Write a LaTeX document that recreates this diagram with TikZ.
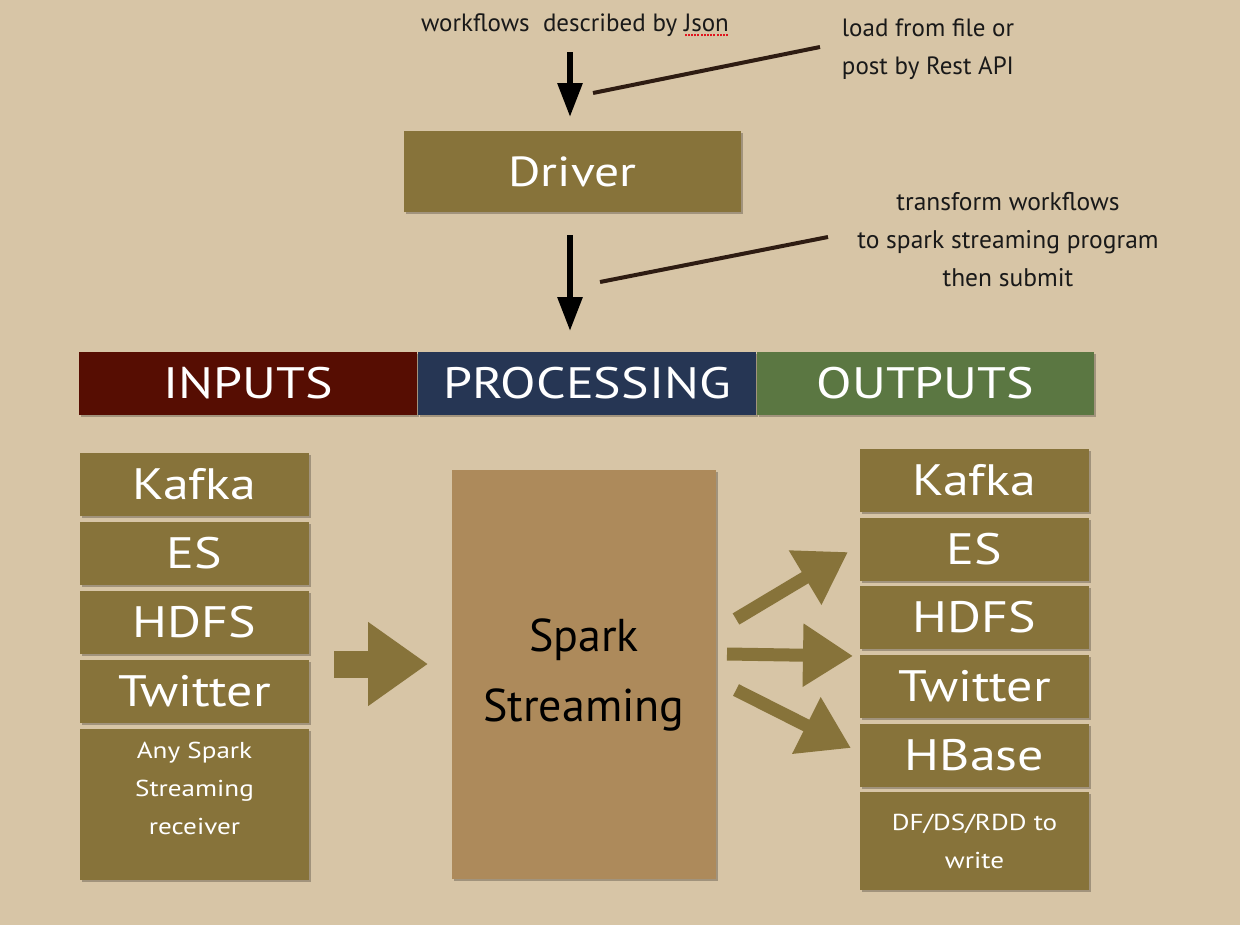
\documentclass[tikz,border=0pt]{standalone}
\usepackage{fontspec}
\setmainfont{PT Sans}
\newfontfamily\widefont[FakeStretch=1.18]{PT Sans}
\usetikzlibrary{arrows.meta,shadows}
\definecolor{bg}{HTML}{D7C5A6}
\definecolor{olivebox}{HTML}{87733A}
\definecolor{sparkbox}{HTML}{AD8A5B}
\definecolor{inred}{HTML}{560D02}
\definecolor{procblue}{HTML}{263654}
\definecolor{outgreen}{HTML}{5B7742}
\definecolor{noteline}{HTML}{2E1C12}
\definecolor{spellred}{HTML}{E0141E}
\newcommand{\spellul}[1]{\setbox0\hbox{#1}\rlap{\textcolor{spellred}{\raisebox{-5pt}{\leaders\hbox to 3.2pt{\hss\rule{2pt}{2pt}\hss}\hskip\wd0}}}#1}
\begin{document}
\begin{tikzpicture}[x=1pt,y=-1pt,
  shad/.style={drop shadow={shadow xshift=1.5pt,shadow yshift=-2pt,opacity=0.25,fill=black}},
  tilebox/.style={fill=olivebox,draw=none,inner sep=0pt,text=white,align=center,shad,
    minimum width=229pt,minimum height=63pt,font=\widefont\fontsize{44pt}{50pt}\selectfont},
  headbox/.style={draw=none,inner sep=0pt,text=white,align=center,shad,
    minimum width=338pt,minimum height=63pt,font=\widefont\fontsize{44pt}{50pt}\selectfont},
  note/.style={align=center,text=black!90,inner sep=0pt,font=\fontsize{25pt}{38pt}\selectfont},
  blackarrow/.style={draw=black,line width=6pt,-{Triangle[length=34pt,width=24pt]}},
  noteconn/.style={draw=noteline,line width=4pt},
  fatarrow/.style={draw=olivebox,-{Triangle[length=50pt,width=60pt]}},
]
\useasboundingbox (0,0) rectangle (1240,924);
\fill[bg] (-10,-10) rectangle (1250,934);

% top notes
\node[note] (json) at (575,25) {workflows\ \ described by \spellul{Json}};
\node[note] (load) at (928,49) {load from file or\\post by Rest API};
\node[note,font=\fontsize{25.5pt}{38pt}\selectfont] (transf) at (1008,240) {transform workflows\\to spark streaming program\\then submit};

% driver
\node[tilebox,minimum width=337pt,minimum height=81pt,font=\widefont\fontsize{42pt}{48pt}\selectfont] (driver) at (572.5,171.5) {Driver};

% header
\node[headbox,fill=inred] (inputs) at (248,383.5) {INPUTS};
\node[headbox,fill=procblue] (proc) at (587,383.5) {PROCESSING};
\node[headbox,fill=outgreen,minimum width=337pt] (outputs) at (925.5,383.5) {OUTPUTS};

% black arrows
\coordinate (a1s) at (570,52);
\coordinate (a1e) at (570,117);
\coordinate (a2s) at (570,235);
\coordinate (a2e) at (570,331);
\draw[blackarrow] (a1s) -- (a1e);
\draw[blackarrow] (a2s) -- (a2e);

% note connectors
\coordinate (n1a) at (593,93);
\coordinate (n1b) at (820,47);
\coordinate (n2a) at (600,282);
\coordinate (n2b) at (828,237);
\draw[noteconn] (n1a) -- (n1b);
\draw[noteconn] (n2a) -- (n2b);

% input column
\node[tilebox] (ikafka) at (194.5,484.5) {Kafka};
\node[tilebox] (ies) at (194.5,553.5) {ES};
\node[tilebox] (ihdfs) at (194.5,622.5) {HDFS};
\node[tilebox] (itwit) at (194.5,691) {Twitter};
\node[tilebox,minimum height=151pt] (iany) at (194.5,804.5) {};
\node[text=white,align=center,inner sep=0pt,font=\widefont\fontsize{23pt}{38pt}\selectfont] (ianyt) at (194.5,788) {Any Spark\\Streaming\\receiver};

% spark
\node[fill=sparkbox,draw=none,inner sep=0pt,shad,minimum width=264pt,minimum height=409pt,
  align=center,font=\fontsize{46pt}{70pt}\selectfont] (spark) at (584,674.5) {Spark\\Streaming};

% output column
\node[tilebox] (okafka) at (974.5,480.5) {Kafka};
\node[tilebox] (oes) at (974.5,549.5) {ES};
\node[tilebox] (ohdfs) at (974.5,617.5) {HDFS};
\node[tilebox] (otwit) at (974.5,686.5) {Twitter};
\node[tilebox] (ohbase) at (974.5,755.5) {HBase};
\node[tilebox,minimum height=98pt,font=\widefont\fontsize{23pt}{38pt}\selectfont] (odf) at (974.5,841) {DF/DS/RDD to\\write};

% fat arrows
\coordinate (inA) at (334,664);
\coordinate (inB) at (428,664);
\draw[draw=olivebox,line width=27pt,-{Triangle[length=60pt,width=80pt]}] (inA) -- (inB);
\coordinate (o1a) at (736,619);
\coordinate (o1b) at (848,552);
\coordinate (o2a) at (727,654);
\coordinate (o2b) at (853,656);
\coordinate (o3a) at (736,690);
\coordinate (o3b) at (851,748);
\draw[fatarrow,line width=13pt] (o1a) -- (o1b);
\draw[fatarrow,line width=13pt] (o2a) -- (o2b);
\draw[fatarrow,line width=13pt] (o3a) -- (o3b);
\end{tikzpicture}
\end{document}
